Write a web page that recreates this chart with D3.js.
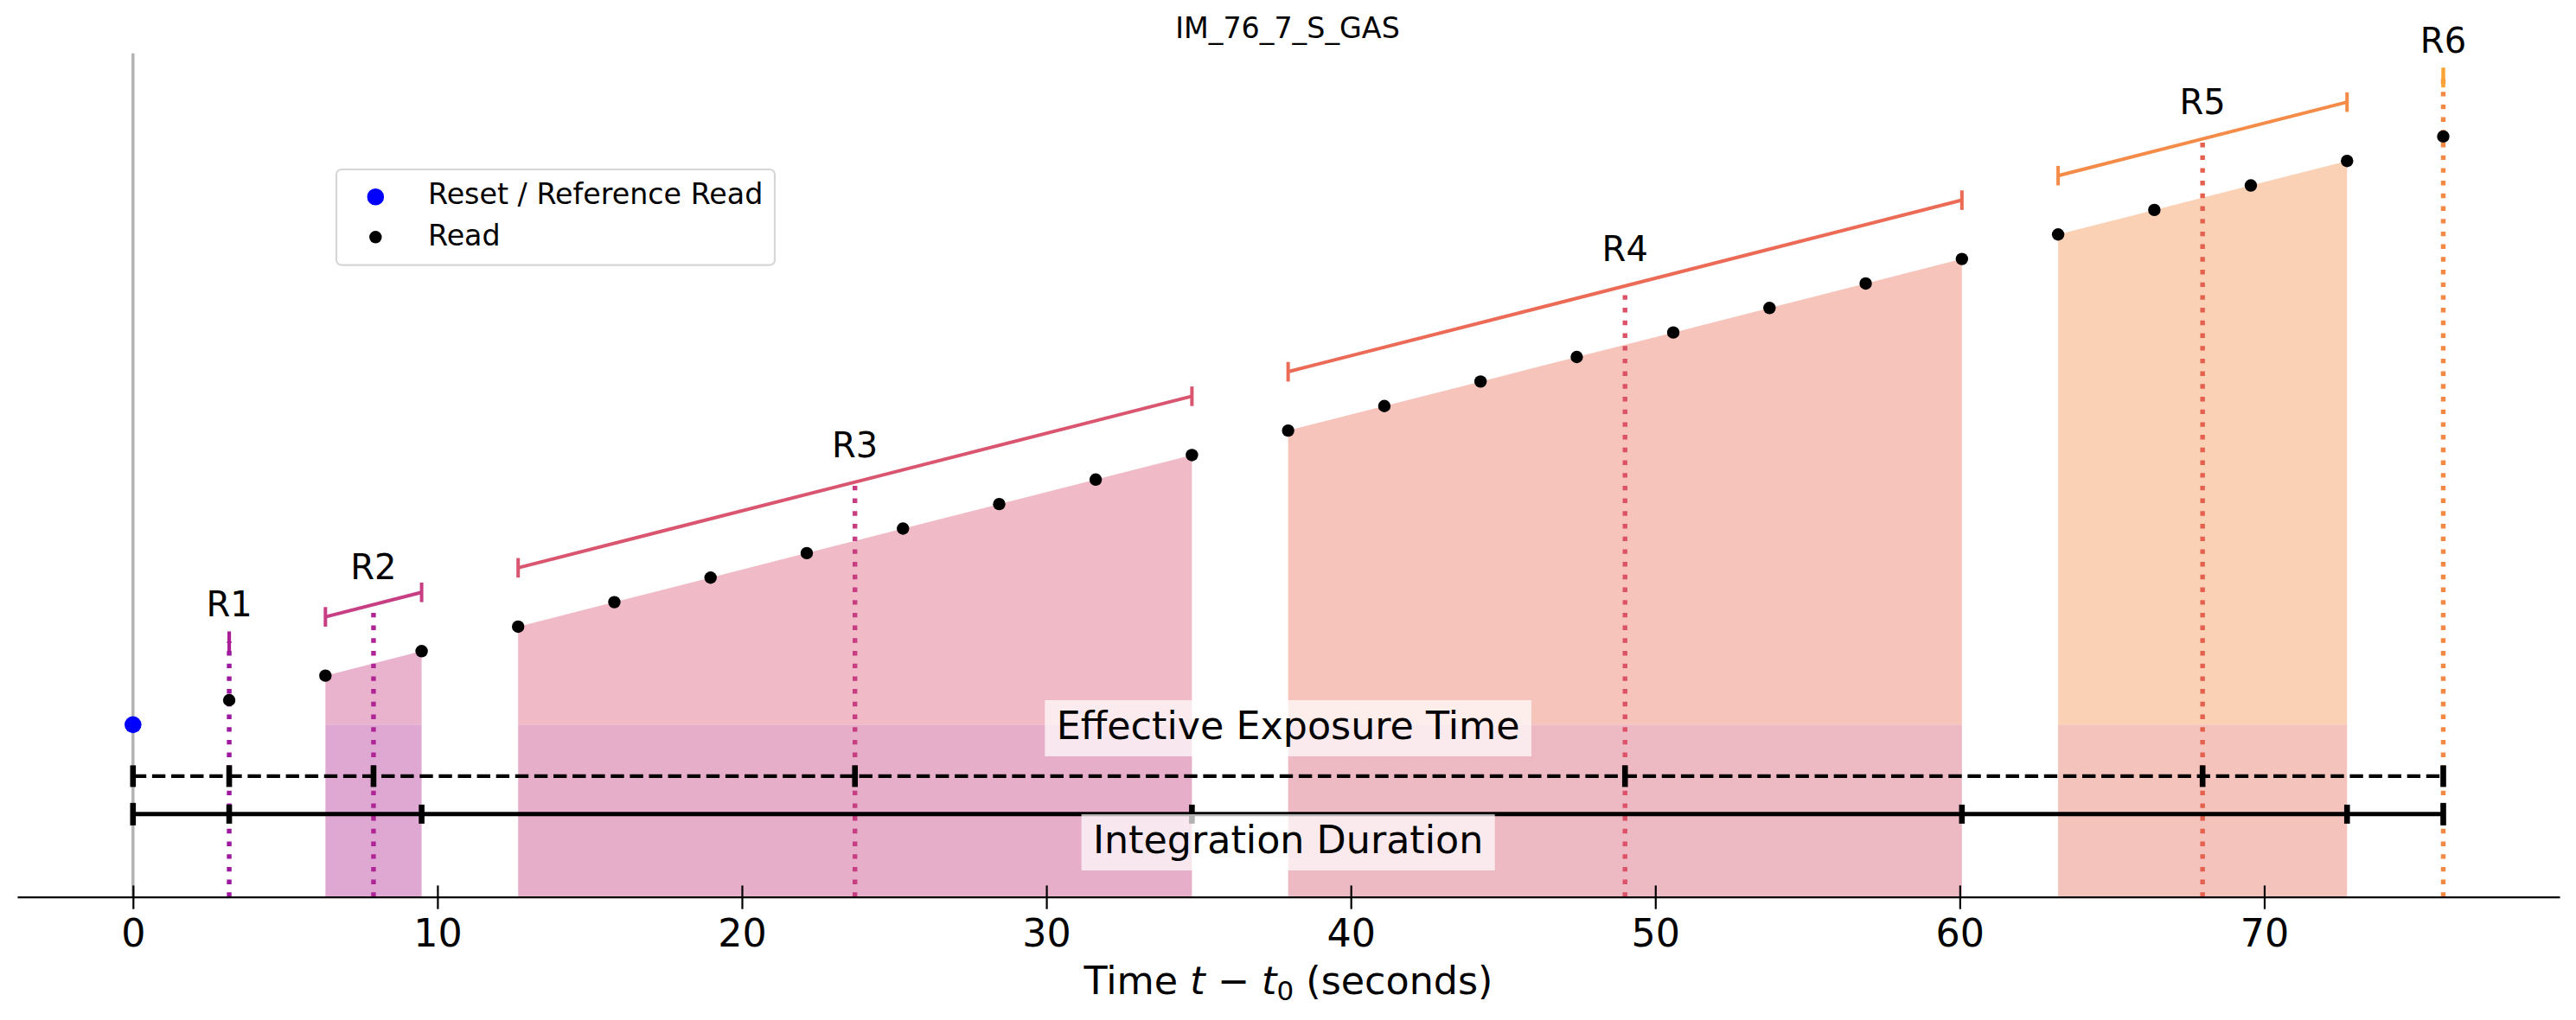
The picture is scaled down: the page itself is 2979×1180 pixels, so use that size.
<!DOCTYPE html>
<html>
<head>
<meta charset="utf-8">
<script src="https://cdn.jsdelivr.net/npm/d3@7"></script>
<style>
  body { margin: 0; background: #ffffff; }
  svg { display: block; }
  text { font-family: "DejaVu Sans", sans-serif; fill: #000; }
</style>
</head>
<body>
<svg id="chart" width="2979" height="1180"></svg>
<script>
// ---------------- data ----------------
const chartTitle = "IM_76_7_S_GAS";
const resetTime = 0;
const resetCount = 0;
const readTimes = [3.16, 6.32, 9.48, 12.65, 15.81, 18.97, 22.13, 25.29, 28.45, 31.62, 34.78,
                   37.94, 41.10, 44.26, 47.42, 50.59, 53.75, 56.91, 60.07, 63.23, 66.39, 69.56, 72.72, 75.88];
const readCounts = [1, 2, 3, 4, 5, 6, 7, 8, 9, 10, 11, 12, 13, 14, 15, 16, 17, 18, 19, 20, 21, 22, 23, 24];
const readResultant = [0, 1, 1, 2, 2, 2, 2, 2, 2, 2, 2, 3, 3, 3, 3, 3, 3, 3, 3, 4, 4, 4, 4, 5];
const resultantLabels = ["R1", "R2", "R3", "R4", "R5", "R6"];
const bracketColors = ["#ab1f96", "#c73e83", "#da5670", "#ec6b57", "#f58b48", "#f9a335"];
const meanLineColors = ["#9e179f", "#b02595", "#c73e83", "#dc5269", "#e4614f", "#f38944"];
const lowerFillColors = ["#dfa8d3", "#dfa8d3", "#e6aec9", "#edb9c3", "#f4c3bb", "#f4c3bb"];
const xTicks = [0, 10, 20, 30, 40, 50, 60, 70];
const legendLabels = ["Reset / Reference Read", "Read"];
const xLabelParts = ["Time ", "t", " \u2212 ", "t", "0", " (seconds)"];
const effectiveLabel = "Effective Exposure Time";
const integrationLabel = "Integration Duration";

// ---------------- layout ----------------
const svg = d3.select("#chart");
const x = d3.scaleLinear().domain([-3.8, 79.7]).range([20, 2960]);
const y = d3.scaleLinear().domain([-7.03, 27.39]).range([1037.7, 61.7]);
const yBottom = -7.03, yTop = 27.39;
const bracketOffset = 2.4;
const effLineY = -2.10, intLineY = -3.65;
const effTextY = -0.145, intTextY = -4.80;

const groups = resultantLabels.map((lab, i) => {
  const idx = readResultant.map((r, j) => r === i ? j : -1).filter(j => j >= 0);
  const pts = idx.map(j => ({t: readTimes[j], c: readCounts[j]}));
  return {
    lab, i, pts,
    meanT: d3.mean(pts, d => d.t),
    meanC: d3.mean(pts, d => d.c),
    t0: pts[0].t, t1: pts[pts.length - 1].t,
    c0: pts[0].c, c1: pts[pts.length - 1].c
  };
});

const gFill = svg.append("g");
groups.filter(g => g.pts.length > 1).forEach(g => {
  gFill.append("rect")
    .attr("x", x(g.t0)).attr("width", x(g.t1) - x(g.t0))
    .attr("y", y(0)).attr("height", y(yBottom) - y(0))
    .attr("fill", lowerFillColors[g.i]);
  const poly = [[g.t0, 0], ...g.pts.map(p => [p.t, p.c]), [g.t1, 0]];
  gFill.append("path")
    .attr("d", d3.line().x(d => x(d[0])).y(d => y(d[1]))(poly) + "Z")
    .attr("fill", bracketColors[g.i]).attr("fill-opacity", 0.4);
});

// gray vertical line at t=0
svg.append("line")
  .attr("x1", x(resetTime)).attr("x2", x(resetTime))
  .attr("y1", y(yBottom)).attr("y2", y(yTop))
  .attr("stroke", "#b3b3b3").attr("stroke-width", 3.5);

// dotted mean-time lines
groups.forEach(g => {
  svg.append("line")
    .attr("x1", x(g.meanT)).attr("x2", x(g.meanT))
    .attr("y1", y(yBottom)).attr("y2", y(g.meanC + bracketOffset))
    .attr("stroke", meanLineColors[g.i]).attr("stroke-width", 5.4)
    .attr("stroke-dasharray", "5.4,9.3");
});

// brackets
const capHalf = 11.3;
groups.forEach(g => {
  const col = bracketColors[g.i];
  const gb = svg.append("g").attr("stroke", col).attr("stroke-width", 4);
  if (g.pts.length > 1) {
    gb.append("line")
      .attr("x1", x(g.t0)).attr("y1", y(g.c0 + bracketOffset))
      .attr("x2", x(g.t1)).attr("y2", y(g.c1 + bracketOffset));
  }
  [[g.t0, g.c0], [g.t1, g.c1]].forEach(([t, c]) => {
    gb.append("line")
      .attr("x1", x(t)).attr("x2", x(t))
      .attr("y1", y(c + bracketOffset) - capHalf).attr("y2", y(c + bracketOffset) + capHalf);
  });
  svg.append("text")
    .attr("x", x(g.meanT)).attr("y", y(g.meanC + bracketOffset) - 29)
    .attr("text-anchor", "middle").attr("font-size", 40)
    .text(g.lab);
});

// horizontal duration lines
const lastT = readTimes[readTimes.length - 1];
svg.append("line")
  .attr("x1", x(resetTime)).attr("x2", x(lastT))
  .attr("y1", y(effLineY)).attr("y2", y(effLineY))
  .attr("stroke", "#000").attr("stroke-width", 4.2).attr("stroke-dasharray", "15.4,6.7");
[resetTime, ...groups.map(g => g.meanT)].forEach(t => {
  svg.append("rect")
    .attr("x", x(t) - 3.3).attr("width", 6.6)
    .attr("y", y(effLineY) - 12.5).attr("height", 25).attr("fill", "#000");
});
svg.append("line")
  .attr("x1", x(resetTime)).attr("x2", x(lastT))
  .attr("y1", y(intLineY)).attr("y2", y(intLineY))
  .attr("stroke", "#000").attr("stroke-width", 5);
const intTicks = [resetTime, ...groups.map(g => g.t1)];
intTicks.forEach((t, k) => {
  const h = (k === 0 || k === intTicks.length - 1) ? 26 : 22;
  svg.append("rect")
    .attr("x", x(t) - 3.3).attr("width", 6.6)
    .attr("y", y(intLineY) - h / 2).attr("height", h).attr("fill", "#000");
});

// text boxes
function boxedText(label, tx, ty) {
  const g = svg.append("g");
  const cx = x(tx), cy = y(ty);
  const txt = g.append("text")
    .attr("x", cx).attr("y", cy + 12.5)
    .attr("text-anchor", "middle").attr("font-size", 44.4)
    .text(label);
  const w = txt.node().getComputedTextLength() + 26.6;
  g.insert("rect", "text")
    .attr("x", cx - w / 2).attr("width", w)
    .attr("y", cy - 32.5).attr("height", 65)
    .attr("fill", "#fff").attr("fill-opacity", 0.7);
}
boxedText(effectiveLabel, lastT / 2, effTextY);
boxedText(integrationLabel, lastT / 2, intTextY);

// reads
svg.append("g").selectAll("circle").data(readTimes).join("circle")
  .attr("cx", d => x(d)).attr("cy", (d, i) => y(readCounts[i]))
  .attr("r", 7.2).attr("fill", "#000");
svg.append("circle")
  .attr("cx", x(resetTime)).attr("cy", y(resetCount))
  .attr("r", 9.8).attr("fill", "#0000ff");

// x axis
const ax = svg.append("g").attr("transform", `translate(0,${y(yBottom)})`)
  .call(d3.axisBottom(x).tickValues(xTicks).tickFormat(d3.format("d")).tickSizeOuter(0));
ax.select(".domain").attr("stroke", "#000").attr("stroke-width", 2.2);
ax.selectAll(".tick line").attr("y1", -13.3).attr("y2", 14).attr("stroke", "#000").attr("stroke-width", 2.2);
ax.selectAll(".tick text").attr("y", 57.3).attr("dy", 0)
  .attr("font-size", 44.4).attr("font-family", "DejaVu Sans").attr("fill", "#000");

// x label
const xl = svg.append("text").attr("x", 1490).attr("y", 1150)
  .attr("text-anchor", "middle").attr("font-size", 44.4);
xl.append("tspan").text(xLabelParts[0]);
xl.append("tspan").attr("font-style", "italic").text(xLabelParts[1]);
xl.append("tspan").text(xLabelParts[2]);
xl.append("tspan").attr("font-style", "italic").text(xLabelParts[3]);
xl.append("tspan").attr("font-size", 31).attr("dy", 7).text(xLabelParts[4]);
xl.append("tspan").attr("dy", -7).text(xLabelParts[5]);

// title
svg.append("text").attr("x", 1489).attr("y", 44.3)
  .attr("text-anchor", "middle").attr("font-size", 33.3).text(chartTitle);

// legend
const lg = svg.append("g");
lg.append("rect").attr("x", 389).attr("y", 196).attr("width", 507).attr("height", 110.7)
  .attr("rx", 6).attr("fill", "#fff").attr("fill-opacity", 0.8)
  .attr("stroke", "#d6d6d6").attr("stroke-width", 2.2);
lg.append("circle").attr("cx", 434.3).attr("cy", 227.7).attr("r", 9.8).attr("fill", "#0000ff");
lg.append("circle").attr("cx", 434.3).attr("cy", 274.3).attr("r", 7.2).attr("fill", "#000");
lg.append("text").attr("x", 495).attr("y", 236).attr("font-size", 33.3).text(legendLabels[0]);
lg.append("text").attr("x", 495).attr("y", 284.3).attr("font-size", 33.3).text(legendLabels[1]);
</script>
</body>
</html>
